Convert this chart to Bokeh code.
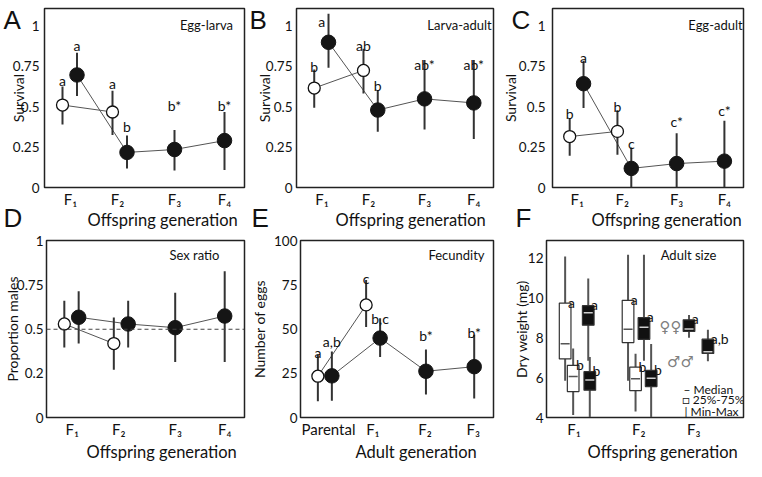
from bokeh.plotting import figure
from bokeh.layouts import column, row
from bokeh.models import Label, Span, FixedTicker, Range1d, Title
from bokeh.core.properties import value
from bokeh.embed import file_html
from bokeh.resources import INLINE

FONT = "Lato"
LETTER_FONT = "Liberation Sans"

# ---------------- data ----------------
offspring_labels = ["F₁", "F₂", "F₃", "F₄"]
adult_labels = ["Parental", "F₁", "F₂", "F₃"]
survival_ticks = [0, 0.25, 0.5, 0.75, 1]
survival_tick_labels = ["0", "0.25", "0.5", "0.75", "1"]
sexratio_tick_labels = ["0", "0.2", "0.5", "0.75", "1"]
fecundity_ticks = [0, 25, 50, 75, 100]
weight_ticks = [4, 6, 8, 10, 12]

# A  Egg-larva
a_white_mean = [0.51, 0.467]
a_white_lo = [0.389, 0.325]
a_white_hi = [0.625, 0.598]
a_black_mean = [0.696, 0.217, 0.235, 0.29]
a_black_lo = [0.566, 0.118, 0.105, 0.108]
a_black_hi = [0.834, 0.321, 0.355, 0.467]
a_white_letters = ["a", "a"]
a_white_letter_y = [0.661, 0.645]
a_black_letters = ["a", "b", "b*", "b*"]
a_black_letter_y = [0.878, 0.38, 0.507, 0.507]

# B  Larva-adult
b_white_mean = [0.615, 0.724]
b_white_lo = [0.493, 0.582]
b_white_hi = [0.73, 0.858]
b_black_mean = [0.898, 0.479, 0.548, 0.523]
b_black_lo = [0.74, 0.345, 0.359, 0.30]
b_black_hi = [1.075, 0.598, 0.789, 0.789]
b_white_letters = ["b", "ab"]
b_white_letter_y = [0.749, 0.878]
b_black_letters = ["a", "b", "ab*", "ab*"]
b_black_letter_y = [1.025, 0.631, 0.759, 0.759]

# C  Egg-adult
c_white_mean = [0.315, 0.347]
c_white_lo = [0.197, 0.203]
c_white_hi = [0.429, 0.478]
c_black_mean = [0.642, 0.118, 0.148, 0.163]
c_black_lo = [0.492, 0.0, 0.0, 0.0]
c_black_hi = [0.784, 0.248, 0.335, 0.413]
c_white_letters = ["b", "b"]
c_white_letter_y = [0.459, 0.498]
c_black_letters = ["a", "c", "c*", "c*"]
c_black_letter_y = [0.803, 0.272, 0.409, 0.478]

# D  Sex ratio
d_white_mean = [0.53, 0.419]
d_white_lo = [0.397, 0.27]
d_white_hi = [0.662, 0.567]
d_black_mean = [0.568, 0.53, 0.509, 0.575]
d_black_lo = [0.419, 0.397, 0.315, 0.315]
d_black_hi = [0.716, 0.662, 0.707, 0.829]
d_reference = 0.5

# E  Fecundity
e_white_mean = [23.4, 63.8]
e_white_lo = [9.2, 51.3]
e_white_hi = [35.6, 77.9]
e_black_mean = [23.6, 45.0, 26.2, 28.8]
e_black_lo = [9.5, 34.3, 13.1, 10.8]
e_black_hi = [37.4, 56.3, 38.6, 46.9]
e_white_letters = ["a", "c"]
e_white_letter_y = [36.9, 78.8]
e_black_letters = ["a,b", "b,c", "b*", "b*"]
e_black_letter_y = [42.8, 56.3, 46.4, 48.2]

# F  Adult size (box plots)
f_gen_labels = ["F₁", "F₂", "F₃"]
f_group = [0, 0, 0, 0, 1, 1, 1, 1, 2, 2]
f_treat = ["white", "white", "black", "black", "white", "white", "black", "black", "black", "black"]
f_sex = ["F", "M", "F", "M", "F", "M", "F", "M", "F", "M"]
f_min = [5.84, 4.12, 6.85, 4.03, 5.85, 4.30, 6.85, 4.03, 8.00, 6.82]
f_q1 = [6.94, 5.30, 8.63, 5.37, 7.76, 5.35, 7.92, 5.55, 8.32, 7.21]
f_med = [7.70, 6.06, 9.25, 5.88, 8.43, 5.94, 8.53, 5.97, 8.44, 7.30]
f_q3 = [9.74, 6.62, 9.61, 6.30, 9.88, 6.53, 9.01, 6.36, 8.90, 7.93]
f_max = [12.08, 7.46, 10.97, 7.04, 12.17, 7.20, 12.16, 7.69, 9.14, 8.40]
f_letters = ["a", "b", "a", "b", "a", "b", "a", "b", "a", "a,b"]

# ---------------- layout constants ----------------
COL_W = [248, 250, 248]
BORDER_L = [44, 48, 48]
BORDER_R = [4, 5, 3]
ROW_H = [232, 229]
BORDER_T = 8
BORDER_B = [45, 44]
FH = [ROW_H[i] - BORDER_T - BORDER_B[i] for i in range(2)]
TEXT_C = "#111111"

XT_ST = [-39, -43]      # standoff of x-axis titles per row (their size clamps to 0)
LET_ST_ABOVE = -52
LET_ST_BELOW = -44
XT_SIZE = "16.5px"


def base_figure(col, rw, x_range, y_range):
    p = figure(width=COL_W[col], height=ROW_H[rw], x_range=x_range, y_range=y_range,
               output_backend="svg", toolbar_location=None, title=None,
               min_border_left=BORDER_L[col], min_border_right=BORDER_R[col],
               min_border_top=BORDER_T, min_border_bottom=BORDER_B[rw],
               background_fill_color="white", border_fill_color="white",
               outline_line_color="#222222", outline_line_width=1.5)
    p.xgrid.visible = False
    p.ygrid.visible = False
    for ax in (p.xaxis[0], p.yaxis[0]):
        ax.axis_line_color = None
        ax.major_tick_line_color = None
        ax.minor_tick_line_color = None
        ax.major_tick_out = 0
        ax.major_tick_in = 0
        ax.minor_tick_out = 0
        ax.minor_tick_in = 0
        ax.major_label_text_font = FONT
        ax.major_label_text_color = TEXT_C
        ax.axis_label_text_font = FONT
        ax.axis_label_text_font_style = "normal"
        ax.axis_label_text_color = TEXT_C
        ax.axis_label_text_font_size = "14px"
    p.xaxis[0].major_label_text_font_size = "15px"
    p.yaxis[0].major_label_text_font_size = "13.5px"
    p.xaxis[0].major_label_standoff = 2
    return p


def add_title(p, text, side, offset, standoff, size=XT_SIZE, font=FONT):
    p.add_layout(Title(text=text, align="left", offset=offset, standoff=standoff,
                       vertical_align="bottom", text_font=font, text_font_size=size,
                       text_font_style="normal", text_color=TEXT_C), side)


def set_x(p, rw, ticks, labels, title, title_offset):
    p.xaxis[0].ticker = FixedTicker(ticks=ticks)
    p.xaxis[0].major_label_overrides = {t: l for t, l in zip(ticks, labels)}
    add_title(p, title, "below", title_offset, XT_ST[rw])


def set_y(p, ticks, labels, title, label_standoff, title_standoff):
    p.yaxis[0].ticker = FixedTicker(ticks=ticks)
    p.yaxis[0].major_label_overrides = {t: l for t, l in zip(ticks, labels)}
    p.yaxis[0].axis_label = title
    p.yaxis[0].major_label_standoff = label_standoff
    p.yaxis[0].axis_label_standoff = title_standoff


def panel_letter(p, text, side, offset, standoff):
    add_title(p, text, side, offset, standoff, size="26px", font=LETTER_FONT)


def add_text_label(p, text, x, y, size="13px", align="center", font=FONT, color=TEXT_C, baseline="middle"):
    p.add_layout(Label(x=x, y=y, x_units="screen", y_units="screen", text=text,
                       text_font=font, text_font_size=size, text_color=color,
                       text_align=align, text_baseline=baseline))


def point_panel(p, xw, wm, wlo, whi, xb, bm, blo, bhi):
    p.line(xw, wm, line_color="#555555", line_width=1)
    p.line(xb, bm, line_color="#555555", line_width=1)
    p.segment(x0=xw, y0=wlo, x1=xw, y1=whi, line_color="#333333", line_width=2)
    p.segment(x0=xb, y0=blo, x1=xb, y1=bhi, line_color="#333333", line_width=2)
    p.scatter(xw, wm, size=12, marker="circle", fill_color="white", line_color="#111111", line_width=1.3)
    p.scatter(xb, bm, size=14.5, marker="circle", fill_color="#151515", line_color="#151515", line_width=1)


def letters(p, xs, ys, texts):
    p.text(x=xs, y=ys, text=texts, text_align="center", text_baseline="alphabetic",
           text_font=value(FONT), text_font_size="14px", text_color=TEXT_C)


gen_pos = [1.0, 2.0, 3.1, 4.1]
x_white = [g - 0.14 for g in gen_pos[:2]]
x_black = [g + 0.15 if i < 2 else g for i, g in enumerate(gen_pos)]
off_ticks = [1.02, 1.96, 3.1, 4.1]
adult_tick_pos = [1.08, 2.0, 3.08, 4.08]

# ---------------- Panel A ----------------
pA = base_figure(0, 0, Range1d(0.5, 4.5), Range1d(0, 1.107))
set_x(pA, 0, off_ticks, offspring_labels, "Offspring generation", 43)
set_y(pA, survival_ticks, survival_tick_labels, "Survival", 5, -17)
point_panel(pA, x_white, a_white_mean, a_white_lo, a_white_hi, x_black, a_black_mean, a_black_lo, a_black_hi)
letters(pA, x_white, a_white_letter_y, a_white_letters)
letters(pA, x_black, a_black_letter_y, a_black_letters)
add_text_label(pA, "Egg-larva", 162, FH[0] - 16.5)
panel_letter(pA, "A", "above", -41, LET_ST_ABOVE)
panel_letter(pA, "D", "below", -41, LET_ST_BELOW)

# ---------------- Panel B ----------------
pB = base_figure(1, 0, Range1d(0.5, 4.5), Range1d(0, 1.107))
set_x(pB, 0, off_ticks, offspring_labels, "Offspring generation", 39)
set_y(pB, survival_ticks, survival_tick_labels, "Survival", 4, -10)
point_panel(pB, x_white, b_white_mean, b_white_lo, b_white_hi, x_black, b_black_mean, b_black_lo, b_black_hi)
letters(pB, x_white, b_white_letter_y, b_white_letters)
b_letter_x = [x_black[0] - 0.14] + x_black[1:]
letters(pB, b_letter_x, b_black_letter_y, b_black_letters)
add_text_label(pB, "Larva-adult", 163, FH[0] - 16.5)
panel_letter(pB, "B", "above", -47, LET_ST_ABOVE)
panel_letter(pB, "E", "below", -45, LET_ST_BELOW)

# ---------------- Panel C ----------------
pC = base_figure(2, 0, Range1d(0.5, 4.5), Range1d(0, 1.107))
set_x(pC, 0, off_ticks, offspring_labels, "Offspring generation", 39)
set_y(pC, survival_ticks, survival_tick_labels, "Survival", 7, -3)
point_panel(pC, x_white, c_white_mean, c_white_lo, c_white_hi, x_black, c_black_mean, c_black_lo, c_black_hi)
letters(pC, x_white, c_white_letter_y, c_white_letters)
letters(pC, x_black, c_black_letter_y, c_black_letters)
add_text_label(pC, "Egg-adult", 163, FH[0] - 16.5)
panel_letter(pC, "C", "above", -41, LET_ST_ABOVE)
panel_letter(pC, "F", "below", -37, LET_ST_BELOW)

# ---------------- Panel D ----------------
pD = base_figure(0, 1, Range1d(0.5, 4.5), Range1d(0, 1.003))
set_x(pD, 1, off_ticks, offspring_labels, "Offspring generation", 40)
set_y(pD, survival_ticks, sexratio_tick_labels, "Proportion males", 3, -7)
pD.add_layout(Span(location=d_reference, dimension="width", line_color="#444444",
                   line_width=1, line_dash="4 3"))
point_panel(pD, x_white, d_white_mean, d_white_lo, d_white_hi, x_black, d_black_mean, d_black_lo, d_black_hi)
add_text_label(pD, "Sex ratio", 148, FH[1] - 14)

# ---------------- Panel E ----------------
pE = base_figure(1, 1, Range1d(0.5, 4.5), Range1d(0, 100.3))
set_x(pE, 1, adult_tick_pos, adult_labels, "Adult generation", 55)
set_y(pE, fecundity_ticks, [str(t) for t in fecundity_ticks], "Number of eggs", 3, 3)
point_panel(pE, x_white, e_white_mean, e_white_lo, e_white_hi, x_black, e_black_mean, e_black_lo, e_black_hi)
letters(pE, x_white, e_white_letter_y, e_white_letters)
letters(pE, x_black, e_black_letter_y, e_black_letters)
add_text_label(pE, "Fecundity", 156, FH[1] - 14)

# ---------------- Panel F ----------------
f_centers = [1.0, 2.0, 2.85]
f_dodge = [-0.138, -0.014, 0.219, 0.243, -0.166, -0.05, 0.08, 0.191, -0.074, 0.218]
f_x = [f_centers[g] + d for g, d in zip(f_group, f_dodge)]
BW = 0.18
pF = base_figure(2, 1, Range1d(0.574, 3.618), Range1d(4, 12.88))
set_x(pF, 1, f_centers, f_gen_labels, "Offspring generation", 41)
set_y(pF, weight_ticks, [str(t) for t in weight_ticks], "Dry weight (mg)", 3, -5)
pF.segment(x0=f_x, y0=f_min, x1=f_x, y1=f_max, line_color="#555555", line_width=2)
fills = ["white" if t == "white" else "#111111" for t in f_treat]
med_cols = ["#555555" if t == "white" else "#cfcfcf" for t in f_treat]
pF.vbar(x=f_x, width=BW, bottom=f_q1, top=f_q3, fill_color=fills, line_color="#333333", line_width=1.2)
pF.segment(x0=[x - BW / 2 + 0.02 for x in f_x], y0=f_med, x1=[x + BW / 2 - 0.02 for x in f_x], y1=f_med,
           line_color=med_cols, line_width=1.5)
pF.text(x=[x + BW / 2 for x in f_x], y=f_q3, text=f_letters, text_align="left", text_baseline="alphabetic",
        x_offset=-3, y_offset=-1, text_font=value(FONT), text_font_size="14px", text_color=TEXT_C)
add_text_label(pF, "Adult size", 142, FH[1] - 14)
add_text_label(pF, "♀♀", 124, 91, size="15px", font="DejaVu Sans", color="#808080")
add_text_label(pF, "♂♂", 134, 55.5, size="15px", font="DejaVu Sans", color="#808080")
add_text_label(pF, "– Median", 137, 28.5, size="12px", align="left")
add_text_label(pF, "□ 25%-75%", 136, 18, size="12px", align="left")
add_text_label(pF, "| Min-Max", 138, 6.5, size="12px", align="left")

layout = column(row(pA, pB, pC), row(pD, pE, pF))

open("out.html", "w").write(file_html(layout, INLINE))
